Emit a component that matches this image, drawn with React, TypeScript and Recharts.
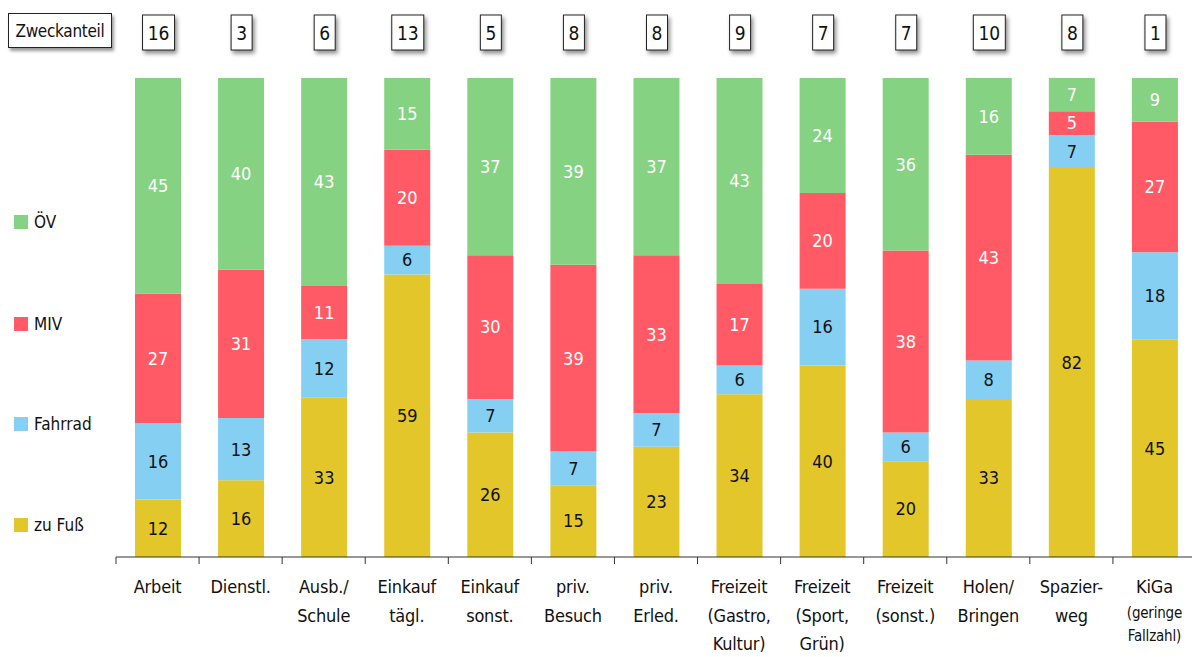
import React from 'react';
import { BarChart, Bar, XAxis, YAxis, LabelList, Legend } from 'recharts';

const categories = [
  'Arbeit',
  'Dienstl.',
  'Ausb./\nSchule',
  'Einkauf\ntägl.',
  'Einkauf\nsonst.',
  'priv.\nBesuch',
  'priv.\nErled.',
  'Freizeit\n(Gastro,\nKultur)',
  'Freizeit\n(Sport,\nGrün)',
  'Freizeit\n(sonst.)',
  'Holen/\nBringen',
  'Spazier-\nweg',
  'KiGa\n(geringe\nFallzahl)',
];
const smallNote = [false, false, false, false, false, false, false, false, false, false, false, false, true];
const zuFuss = [12, 16, 33, 59, 26, 15, 23, 34, 40, 20, 33, 82, 45];
const fahrrad = [16, 13, 12, 6, 7, 7, 7, 6, 16, 6, 8, 7, 18];
const miv = [27, 31, 11, 20, 30, 39, 33, 17, 20, 38, 43, 5, 27];
const oev = [45, 40, 43, 15, 37, 39, 37, 43, 24, 36, 16, 7, 9];
const zweckanteil = [16, 3, 6, 13, 5, 8, 8, 9, 7, 7, 10, 8, 1];

const series = [
  { key: 'zuFuss', name: 'zu Fuß', color: '#E3C62A', text: '#111' },
  { key: 'fahrrad', name: 'Fahrrad', color: '#85CFF3', text: '#111' },
  { key: 'miv', name: 'MIV', color: '#FF5A65', text: '#fff' },
  { key: 'oev', name: 'ÖV', color: '#85D283', text: '#fff' },
];

const data = categories.map((name, i) => ({
  name,
  idx: i,
  zuFuss: zuFuss[i],
  fahrrad: fahrrad[i],
  miv: miv[i],
  oev: oev[i],
}));

const FONT = '"DejaVu Sans Condensed", "Liberation Sans Narrow", sans-serif';
const CHART_W = 1196;
const CHART_H = 657;
const LEFT = 116;
const BAND = (CHART_W - LEFT) / categories.length;

const BottomTick = (props: any) => {
  const { x, y, payload, index } = props;
  const lines = String(payload.value).split('\n');
  const small = smallNote[index];
  const isLast = index === categories.length - 1;
  return (
    <g>
      <line x1={x - BAND / 2} x2={x - BAND / 2} y1={y} y2={y + 7} stroke="#333" strokeWidth={1} />
      {isLast && <line x1={x + BAND / 2} x2={x + BAND / 2} y1={y} y2={y + 7} stroke="#333" strokeWidth={1} />}
      {lines.map((ln, i) => {
        const isSmall = small && i > 0;
        const dy = small ? (i === 0 ? 30 : i === 1 ? 55 : 78) : 30 + i * 28.5;
        return (
          <text
            key={i}
            x={x}
            y={y + dy + 6}
            textAnchor="middle"
            fontFamily={FONT}
            fontSize={isSmall ? 15 : 18}
            letterSpacing={-0.2}
            fill="#111"
          >
            {ln}
          </text>
        );
      })}
    </g>
  );
};

const TopTick = (props: any) => {
  const { x, y, index } = props;
  const v = String(zweckanteil[index]);
  const w = 10 + 11 * v.length;
  const cx = x + 1;
  return (
    <g>
      <rect
        x={cx - w / 2}
        y={y - 63}
        width={w}
        height={35}
        fill="#fff"
        stroke="#222"
        strokeWidth={1}
        style={{ filter: 'drop-shadow(2px 3px 2px rgba(0,0,0,0.45))' }}
      />
      <text
        x={cx}
        y={y - 45}
        textAnchor="middle"
        dominantBaseline="central"
        fontFamily={FONT}
        fontSize={19}
        fill="#111"
      >
        {v}
      </text>
    </g>
  );
};

const legendTops = [212, 314, 414, 515];

const LegendContent = () => {
  const items = [...series].reverse();
  return (
    <div style={{ position: 'relative', width: 110, height: 557 }}>
      {items.map((s, i) => (
        <div
          key={s.key}
          style={{
            position: 'absolute',
            left: 14,
            top: legendTops[i],
            height: 20,
            display: 'flex',
            alignItems: 'center',
            fontFamily: FONT,
            fontSize: 17,
            color: '#111',
            whiteSpace: 'nowrap',
          }}
        >
          <span style={{ display: 'inline-block', width: 14, height: 14, background: s.color, marginRight: 6 }} />
          {s.name}
        </div>
      ))}
    </div>
  );
};

export default function App() {
  return (
    <div style={{ position: 'absolute', left: 0, top: 0, width: 1192, height: 657, overflow: 'hidden', background: '#fff' }}>
      <div
        style={{
          position: 'absolute',
          left: 8,
          top: 13,
          width: 102,
          height: 33,
          border: '1px solid #222',
          boxShadow: '2px 3px 3px rgba(0,0,0,0.4)',
          background: '#fff',
          fontFamily: FONT,
          fontSize: 17,
          letterSpacing: -0.3,
          color: '#111',
          display: 'flex',
          alignItems: 'center',
          justifyContent: 'center',
          zIndex: 2,
        }}
      >
        Zweckanteil
      </div>
      <BarChart
        width={CHART_W}
        height={CHART_H}
        data={data}
        stackOffset="expand"
        margin={{ top: 0, right: 0, bottom: 0, left: LEFT }}
        barSize={46}
      >
        <XAxis
          xAxisId="bottom"
          dataKey="name"
          orientation="bottom"
          height={100}
          interval={0}
          tickLine={false}
          tickSize={0}
          tickMargin={0}
          axisLine={{ stroke: '#333', strokeWidth: 1 }}
          tick={<BottomTick />}
        />
        <XAxis
          xAxisId="top"
          dataKey="name"
          orientation="top"
          height={78}
          interval={0}
          tickLine={false}
          tickSize={0}
          tickMargin={0}
          axisLine={false}
          tick={<TopTick />}
        />
        <YAxis hide domain={[0, 1]} />
        <Legend
          layout="horizontal"
          verticalAlign="middle"
          align="center"
          wrapperStyle={{ left: 0, top: 0, width: 110, height: 557 }}
          content={<LegendContent />}
        />
        {series.map((s) => (
          <Bar key={s.key} dataKey={s.key} name={s.name} stackId="a" fill={s.color} xAxisId="bottom" isAnimationActive={false}>
            <LabelList
              dataKey={s.key}
              position="center"
              fill={s.text}
              fontFamily={FONT}
              fontSize={18}
            />
          </Bar>
        ))}
      </BarChart>
    </div>
  );
}
